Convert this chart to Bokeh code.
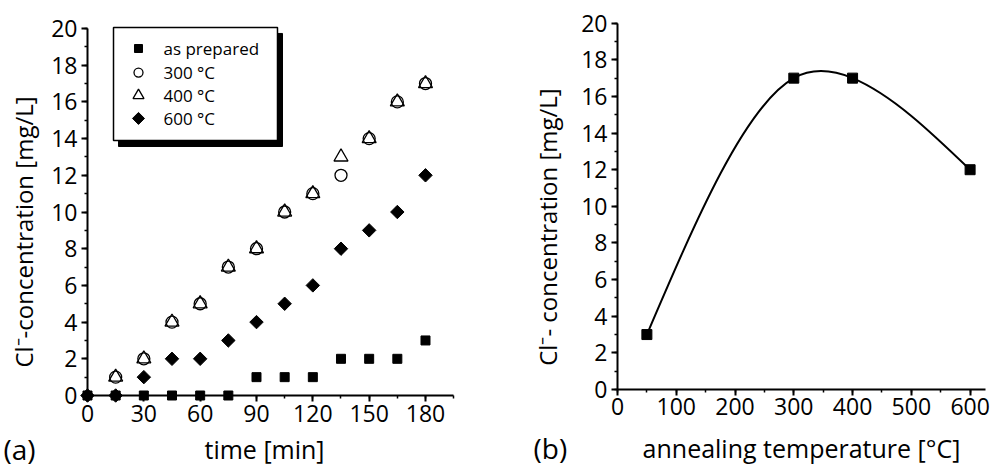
import numpy as np
from bokeh.plotting import figure
from bokeh.layouts import row
from bokeh.models import Range1d, SingleIntervalTicker, Label, ColumnDataSource
from bokeh.core.properties import value
from bokeh.embed import file_html
from bokeh.resources import INLINE

# ---------------- data ----------------
time_min = [0, 15, 30, 45, 60, 75, 90, 105, 120, 135, 150, 165, 180]
conc_as_prepared = [0, 0, 0, 0, 0, 0, 1, 1, 1, 2, 2, 2, 3]
time_annealed = [15, 30, 45, 60, 75, 90, 105, 120, 135, 150, 165, 180]
conc_300 = [1, 2, 4, 5, 7, 8, 10, 11, 12, 14, 16, 17]
conc_400 = [1, 2, 4, 5, 7, 8, 10, 11, 13, 14, 16, 17]
conc_600 = [0, 0, 1, 2, 2, 3, 4, 5, 6, 8, 9, 10, 12]

anneal_temp = [50, 300, 400, 600]
anneal_conc = [3, 17, 17, 12]

series_labels = ["as prepared", "300 °C", "400 °C", "600 °C"]

FONT = "Open Sans"


def natural_spline_beziers(xs, ys):
    """Natural cubic spline through the data, expressed exactly as Bezier segments."""
    x = np.asarray(xs, float)
    y = np.asarray(ys, float)
    n = len(x)
    h = np.diff(x)
    s = np.diff(y) / h
    A = np.zeros((n, n))
    b = np.zeros(n)
    A[0, 0] = 1.0
    A[-1, -1] = 1.0
    for i in range(1, n - 1):
        A[i, i - 1] = h[i - 1]
        A[i, i] = 2 * (h[i - 1] + h[i])
        A[i, i + 1] = h[i]
        b[i] = 6 * (s[i] - s[i - 1])
    M = np.linalg.solve(A, b)
    d0 = s - h * (2 * M[:-1] + M[1:]) / 6
    d1 = s + h * (M[:-1] + 2 * M[1:]) / 6
    return dict(x0=x[:-1], y0=y[:-1], x1=x[1:], y1=y[1:],
                cx0=x[:-1] + h / 3, cy0=y[:-1] + h / 3 * d0,
                cx1=x[1:] - h / 3, cy1=y[1:] - h / 3 * d1)


def style_axis(ax, interval, bounds):
    ax.fixed_location = 0
    ax.bounds = bounds
    ax.ticker = SingleIntervalTicker(interval=interval, num_minor_ticks=2)
    ax.axis_line_color = "black"
    ax.axis_line_width = 2
    ax.major_tick_line_color = "black"
    ax.major_tick_line_width = 2
    ax.minor_tick_line_color = "black"
    ax.minor_tick_line_width = 1.5
    ax.major_tick_out = 6
    ax.major_tick_in = 0
    ax.minor_tick_out = 3
    ax.minor_tick_in = 0
    ax.major_label_text_font = FONT
    ax.major_label_text_font_size = "23px"
    ax.major_label_text_color = "black"
    ax.major_label_standoff = 3


def base_fig(**kw):
    p = figure(output_backend="svg", toolbar_location=None,
               min_border_left=0, min_border_right=0,
               min_border_top=0, min_border_bottom=0, **kw)
    p.outline_line_color = None
    p.xgrid.visible = False
    p.ygrid.visible = False
    p.background_fill_color = "white"
    p.border_fill_color = "white"
    return p


def add_label(p, x, y, text, size, align="center", baseline="middle", angle=0.0):
    p.add_layout(Label(x=x, y=y, text=text, angle=angle, text_align=align,
                       text_baseline=baseline, text_font=FONT,
                       text_font_size=size, text_color="black"))


# ---------------- (a) ----------------
p1 = base_fig(width=480, height=470,
              x_range=Range1d(-46.33, 209.29), y_range=Range1d(-4.087, 21.526))
style_axis(p1.xaxis[0], 30, (0, 195))
style_axis(p1.yaxis[0], 2, (0, 20))
p1.yaxis[0].major_label_standoff = 4

# legend frame (shadow + box)
p1.quad(left=[16.51], right=[103.85], top=[19.73], bottom=[13.57],
        fill_color="black", line_color="black")
p1.quad(left=[13.85], right=[101.18], top=[20.05], bottom=[13.90],
        fill_color="white", line_color="black", line_width=1.5)

p1.scatter(time_min, conc_as_prepared, marker="square", size=9,
           fill_color="black", line_color="black")
p1.scatter(time_annealed, conc_300, marker="circle", size=12,
           fill_color=None, line_color="black", line_width=1.3)
p1.scatter(time_annealed, conc_400, marker="triangle", size=14,
           fill_color=None, line_color="black", line_width=1.3)
p1.scatter(time_min, conc_600, marker="square", angle=np.pi / 4, size=9.5,
           fill_color="black", line_color="black")

# legend entries
leg_x = 27.16
leg_tx = 40.47
leg_y = [18.91, 17.60, 16.35, 15.10]
p1.scatter([leg_x], [leg_y[0]], marker="square", size=8, fill_color="black", line_color="black")
p1.scatter([leg_x], [leg_y[1]], marker="circle", size=9, fill_color=None,
           line_color="black", line_width=1.3)
p1.scatter([leg_x], [leg_y[2]], marker="triangle", size=11, fill_color=None,
           line_color="black", line_width=1.3)
p1.scatter([leg_x], [leg_y[3]], marker="square", angle=np.pi / 4, size=8.5,
           fill_color="black", line_color="black")
p1.text(x=[leg_tx] * 4, y=leg_y, text=series_labels, text_font=value(FONT),
        text_font_size="17px", text_baseline="middle", text_align="left",
        text_color="black")

add_label(p1, -34.08, 8.91, "Cl\u207b-concentration [mg/L]", "24px", angle=np.pi / 2)
add_label(p1, 94.26, -2.94, "time [min]", "25px")
add_label(p1, -44.73, -2.94, "(a)", "28px", align="left")

# ---------------- (b) ----------------
p2 = base_fig(width=510, height=470,
              x_range=Range1d(-233.1, 634.7), y_range=Range1d(-4.423, 21.239))
style_axis(p2.xaxis[0], 100, (0, 626))
style_axis(p2.yaxis[0], 2, (0, 20))
p2.yaxis[0].major_label_standoff = 4

spline_src = ColumnDataSource(natural_spline_beziers(anneal_temp, anneal_conc))
p2.bezier(x0="x0", y0="y0", x1="x1", y1="y1", cx0="cx0", cy0="cy0",
          cx1="cx1", cy1="cy1", source=spline_src, line_color="black", line_width=2)
p2.scatter(anneal_temp, anneal_conc, marker="square", size=10,
           fill_color="black", line_color="black")

add_label(p2, -119.1, 8.87, "Cl\u207b- concentration [mg/L]", "24px", angle=np.pi / 2)
add_label(p2, 313.1, -3.22, "annealing temperature [°C]", "25px")
add_label(p2, -142.9, -3.22, "(b)", "28px", align="left")

layout = row(p1, p2)
open("out.html", "w").write(file_html(layout, INLINE))
